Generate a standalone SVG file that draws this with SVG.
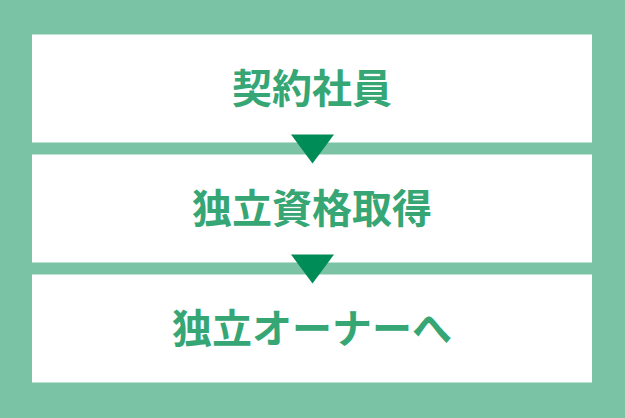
<svg xmlns="http://www.w3.org/2000/svg" width="625" height="418" viewBox="0 0 625 418">
<style>
.box{fill:#ffffff}
.lbl{font-family:"Noto Sans CJK JP","Noto Sans CJK SC",sans-serif;font-weight:bold;font-size:40px;fill:#36a674;text-anchor:middle}
.arr{fill:#008c56}
</style>
<rect x="0" y="0" width="625" height="418" fill="#7ac4a5"/>
<g id="node1"><rect class="box" x="32" y="34.5" width="560" height="108"/><text class="lbl" x="312" y="102.5">契約社員</text></g>
<g id="node2"><rect class="box" x="32" y="154.5" width="560" height="108"/><text class="lbl" x="312" y="222.5">独立資格取得</text></g>
<g id="node3"><rect class="box" x="32" y="274.5" width="560" height="108"/><text class="lbl" x="312" y="342.5">独立オーナーへ</text></g>
<g id="connectors">
<polygon class="arr" points="291,134.5 334,134.5 312.5,163.5"/>
<polygon class="arr" points="291,254.5 334,254.5 312.5,283.5"/>
</g>
</svg>
